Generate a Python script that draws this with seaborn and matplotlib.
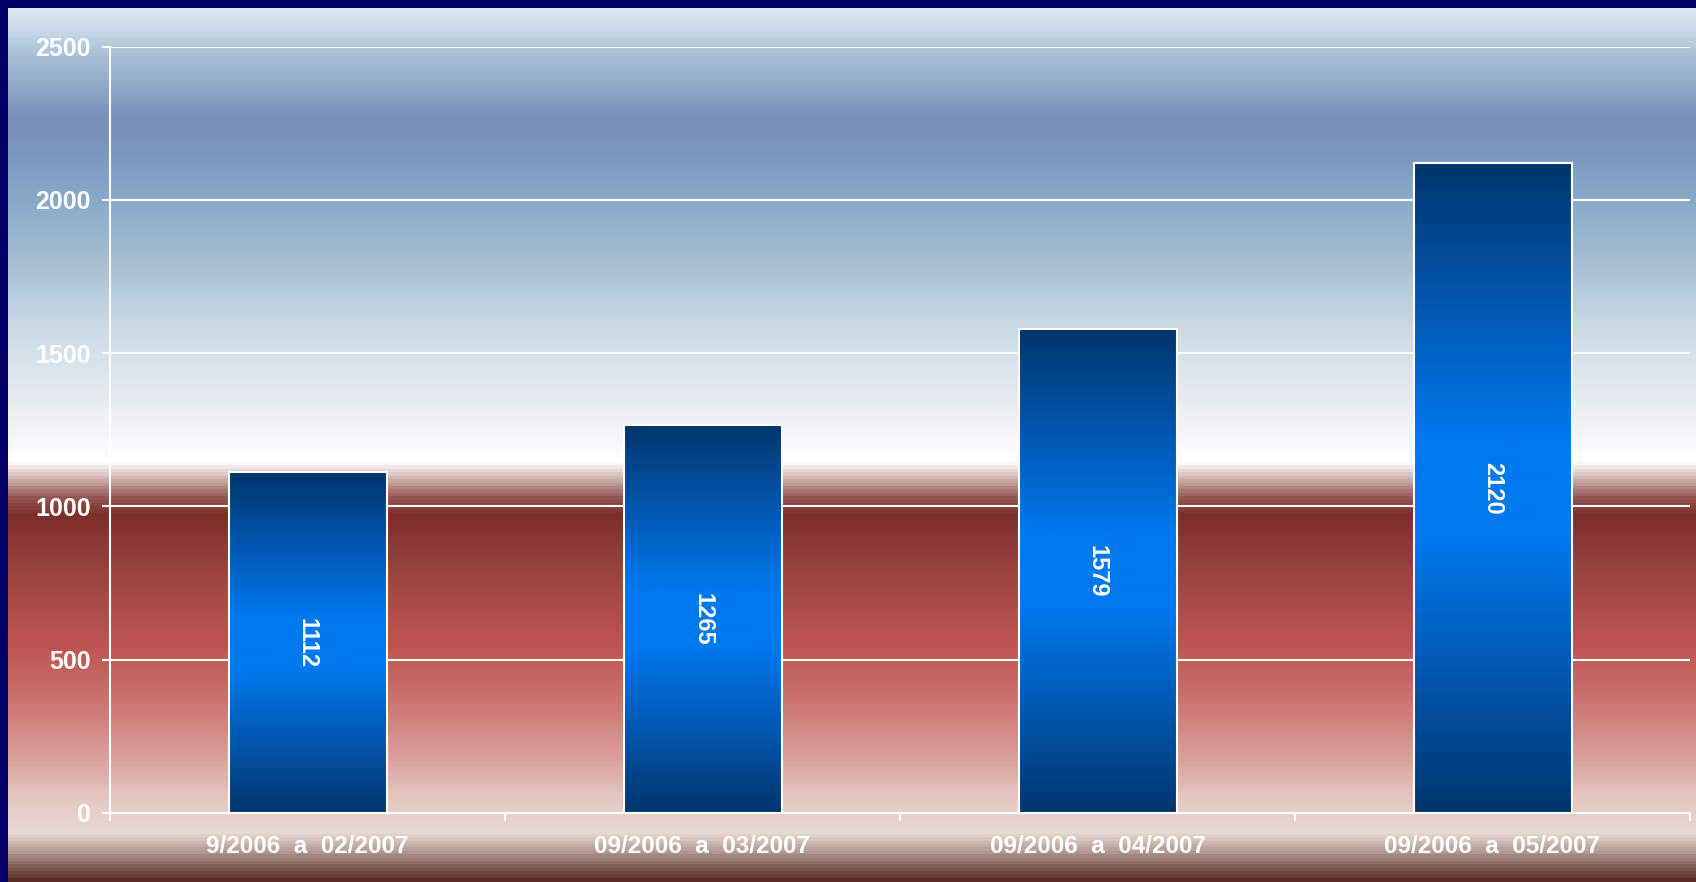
import numpy as np
import matplotlib
matplotlib.use("Agg")
import matplotlib.pyplot as plt
from matplotlib.colors import LinearSegmentedColormap
import seaborn as sns

# data
periods = ["9/2006  a  02/2007", "09/2006  a  03/2007",
           "09/2006  a  04/2007", "09/2006  a  05/2007"]
totals = [1112, 1265, 1579, 2120]
yticks = [0, 500, 1000, 1500, 2000, 2500]

sns.set_theme(style="white")
plt.rcParams['font.family'] = ['Liberation Sans', 'DejaVu Sans']

W, H = 1696, 882
fig = plt.figure(figsize=(W / 100, H / 100), dpi=100, facecolor="#000066")

# background gradient, stops given as pixel row from top
bg_stops = [(8, "#dce8f3"), (30, "#c6d7e6"), (46, "#b0c6d8"), (80, "#90adc8"),
            (118, "#7890b8"), (160, "#7c9cc0"), (200, "#88aac8"), (260, "#a6bfd3"),
            (330, "#ccdae6"), (400, "#e8edf1"), (440, "#f7f9fb"), (463, "#ffffff"),
            (480, "#c9aaa8"), (498, "#965452"), (515, "#7c2e2a"), (560, "#93403a"),
            (620, "#b24f4a"), (650, "#c05550"), (700, "#cb726e"), (760, "#daa09b"),
            (800, "#e5c7c2"), (835, "#e8d9d3"), (850, "#bba69f"), (882, "#5a2e26")]
bg_cmap = LinearSegmentedColormap.from_list(
    "bg", [((r - 8) / (H - 8), c) for r, c in bg_stops])
bg = fig.add_axes([8 / W, 0, 1 - 8 / W, 1 - 8 / H])
bg.imshow(np.linspace(0, 1, 874)[:, None], cmap=bg_cmap, aspect="auto",
          extent=[0, 1, 0, 1])
bg.set_axis_off()

ax = fig.add_axes([110 / W, 69 / H, 1580 / W, 766.3 / H])
ax.set_facecolor("none")

sns.barplot(x=periods, y=totals, width=0.4, color="#0060c0", saturation=1, ax=ax)

bar_cmap = LinearSegmentedColormap.from_list(
    "bar", [(0, "#00356d"), (0.42, "#0078ee"), (0.58, "#0078ee"), (1, "#00356d")])
grad = np.linspace(0, 1, 256)[:, None]
for p in ax.patches:
    x0, w, h = p.get_x(), p.get_width(), p.get_height()
    ax.imshow(grad, cmap=bar_cmap, aspect="auto", extent=[x0, x0 + w, 0, h], zorder=2)
    p.set_facecolor("none")
    p.set_edgecolor("white")
    p.set_linewidth(1.5)
    p.set_zorder(3)

for i, v in enumerate(totals):
    ax.text(i, v / 2, str(v), rotation=270, ha="center", va="center",
            color="white", fontsize=17, fontweight="bold", zorder=4)

ax.set_xlim(-0.5, len(periods) - 0.5)
ax.set_ylim(0, 2500)
ax.set_yticks(yticks)
ax.set_xticks(np.arange(-0.5, len(periods)), labels=[])
ax.set_xticks(range(len(periods)), labels=periods, minor=True)

ax.tick_params(axis="y", left=True, length=6, width=1.5, color="white", pad=8,
               labelsize=18, labelcolor="white")
ax.tick_params(axis="x", which="major", bottom=True, length=6, width=1.5, color="white")
ax.tick_params(axis="x", which="minor", bottom=True, length=0, pad=16,
               labelsize=17.5, labelcolor="white")
for lab in ax.get_yticklabels() + ax.get_xticklabels(minor=True):
    lab.set_fontweight("bold")

ax.yaxis.grid(True, color="white", linewidth=1.5)
ax.xaxis.grid(False)
ax.set_axisbelow(True)
for s in ["top", "right"]:
    ax.spines[s].set_visible(False)
for s in ["left", "bottom"]:
    ax.spines[s].set_color("white")
    ax.spines[s].set_linewidth(1.5)
ax.set_xlabel("")
ax.set_ylabel("")

fig.savefig("out.png", dpi=100, facecolor=fig.get_facecolor())
